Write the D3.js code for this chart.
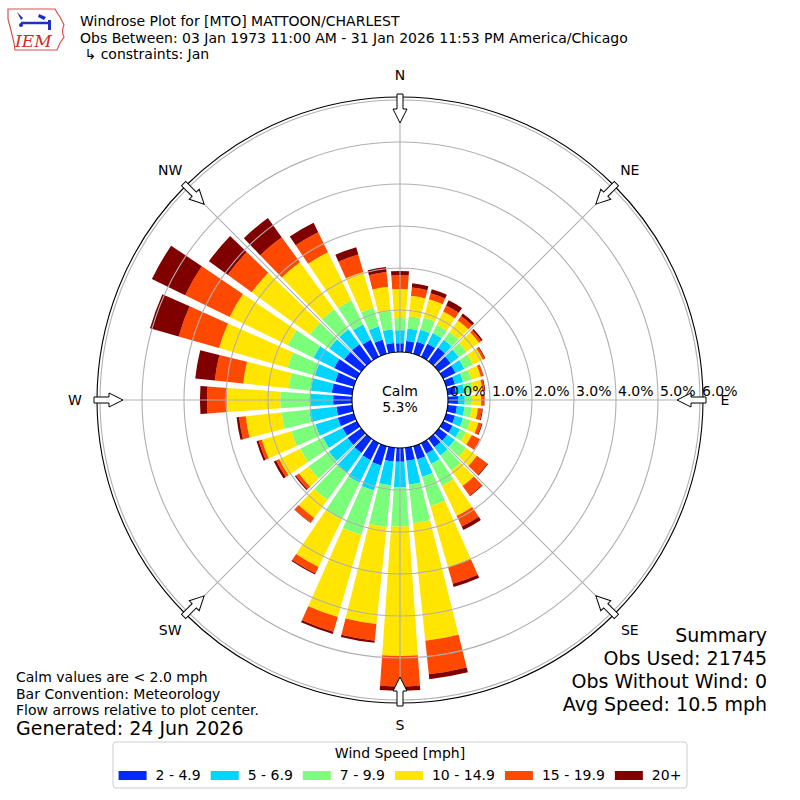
<!DOCTYPE html>
<html>
<head>
<meta charset="utf-8">
<script src="https://cdn.jsdelivr.net/npm/d3@7"></script>
<style>
  body { margin: 0; background: #fff; }
  text { font-family: "DejaVu Sans", sans-serif; fill: #000; }
</style>
</head>
<body>
<svg id="chart" width="800" height="800"></svg>
<script>
// Direction bins (degrees, meteorological convention: clockwise from north)
const directions = [0, 10, 20, 30, 40, 50, 60, 70, 80, 90, 100, 110, 120, 130, 140, 150, 160, 170,
                    180, 190, 200, 210, 220, 230, 240, 250, 260, 270, 280, 290, 300, 310, 320, 330, 340, 350];

const speedBins = ['2 - 4.9', '5 - 6.9', '7 - 9.9', '10 - 14.9', '15 - 19.9', '20+'];
const binColors = ['#002aff', '#00d4ff', '#7bff7b', '#ffe500', '#ff4800', '#800000'];

// Cumulative frequency [%] at the outer edge of each speed bin, one value per direction
const cumTo4_9 = [0.21, 0.27, 0.30, 0.35, 0.40, 0.35, 0.33, 0.22, 0.20, 0.24, 0.22, 0.22, 0.25, 0.25, 0.25, 0.28, 0.33, 0.31,
                  0.33, 0.33, 0.48, 0.45, 0.42, 0.40, 0.38, 0.40, 0.38, 0.45, 0.49, 0.46, 0.60, 0.50, 0.50, 0.45, 0.35, 0.22];
const cumTo6_9 = [0.52, 0.57, 0.60, 0.63, 0.63, 0.59, 0.56, 0.42, 0.40, 0.40, 0.40, 0.42, 0.45, 0.47, 0.49, 0.55, 0.76, 0.88,
                  0.94, 0.90, 1.10, 1.05, 1.00, 0.95, 0.90, 0.95, 1.03, 1.00, 0.99, 0.97, 1.15, 0.94, 0.94, 0.86, 0.68, 0.55];
const cumTo9_9 = [0.81, 0.86, 0.90, 0.85, 0.86, 0.81, 0.79, 0.63, 0.60, 0.57, 0.57, 0.60, 0.60, 0.80, 0.93, 1.13, 1.48, 1.81,
                  1.87, 1.90, 2.20, 2.02, 1.80, 1.55, 1.50, 1.55, 1.69, 1.71, 1.52, 1.64, 1.83, 1.51, 1.53, 1.50, 1.14, 0.99];
const cumTo14_9 = [1.50, 1.35, 1.35, 1.20, 1.20, 1.18, 1.05, 0.86, 0.83, 0.79, 0.72, 0.80, 0.76, 1.12, 1.39, 1.93, 3.00, 4.62,
                   4.95, 4.22, 4.23, 3.28, 2.33, 1.83, 2.06, 2.28, 2.55, 2.98, 2.61, 3.34, 3.37, 3.22, 2.91, 2.77, 2.03, 1.57];
const cumTo19_9 = [1.83, 1.55, 1.50, 1.36, 1.33, 1.25, 1.10, 0.92, 0.88, 0.86, 0.82, 0.88, 0.97, 1.43, 1.67, 2.21, 3.41, 5.42,
                   5.68, 4.62, 4.60, 3.45, 2.47, 1.92, 2.14, 2.36, 2.71, 3.45, 3.29, 4.34, 4.55, 3.93, 3.65, 3.30, 2.46, 1.92];
const cumAll = [1.93, 1.65, 1.60, 1.50, 1.40, 1.29, 1.12, 0.93, 0.90, 0.87, 0.84, 0.90, 0.98, 1.45, 1.69, 2.30, 3.49, 5.54,
                5.78, 4.67, 4.65, 3.48, 2.48, 1.95, 2.20, 2.41, 2.77, 3.62, 3.76, 5.05, 5.43, 4.48, 4.21, 3.55, 2.64, 2.04];

const ringTicks = [0, 1, 2, 3, 4, 5, 6];
const compassLabels = ['N', 'NE', 'E', 'SE', 'S', 'SW', 'W', 'NW'];
const compassDeg = [0, 45, 90, 135, 180, 225, 270, 315];
const calmPct = 5.3;

const titleLines = [
  'Windrose Plot for [MTO] MATTOON/CHARLEST',
  'Obs Between: 03 Jan 1973 11:00 AM - 31 Jan 2026 11:53 PM America/Chicago',
  ' \u21b3 constraints: Jan'
];
const noteLines = ['Calm values are < 2.0 mph', 'Bar Convention: Meteorology', 'Flow arrows relative to plot center.'];
const generatedLine = 'Generated: 24 Jun 2026';
const summaryLines = ['Summary', 'Obs Used: 21745', 'Obs Without Wind: 0', 'Avg Speed: 10.5 mph'];

// ---------------------------------------------------------------------------
const svg = d3.select('#chart');
const cx = 400, cy = 400;
const r = d3.scaleLinear().domain([0, 6]).range([48, 300]);
const rad = d => d * Math.PI / 180;
const halfWidth = 4; // degrees, bars cover 8 of each 10 degree bin

const layers = [cumTo4_9, cumTo6_9, cumTo9_9, cumTo14_9, cumTo19_9, cumAll];

const plot = svg.append('g').attr('transform', `translate(${cx},${cy})`);

// Stacked bars
const arc = d3.arc();
const segs = [];
directions.forEach((deg, i) => {
  layers.forEach((layer, k) => {
    const lo = k === 0 ? 0 : layers[k - 1][i];
    segs.push({ deg, lo, hi: layer[i], k });
  });
});
plot.append('g').selectAll('path')
  .data(segs)
  .join('path')
  .attr('d', d => arc({
    innerRadius: r(d.lo),
    outerRadius: r(d.hi),
    startAngle: rad(d.deg - halfWidth),
    endAngle: rad(d.deg + halfWidth)
  }))
  .attr('fill', d => binColors[d.k]);

// Grid on top of bars
const grid = plot.append('g').attr('fill', 'none').attr('stroke', '#b0b0b0').attr('stroke-width', 1.1);
grid.selectAll('circle')
  .data(ringTicks.slice(1))
  .join('circle')
  .attr('r', d => r(d));
grid.selectAll('line')
  .data(compassDeg)
  .join('line')
  .attr('x1', d => r(0) * Math.sin(rad(d)))
  .attr('y1', d => -r(0) * Math.cos(rad(d)))
  .attr('x2', d => r(6) * Math.sin(rad(d)))
  .attr('y2', d => -r(6) * Math.cos(rad(d)));

// Outer frame
plot.append('circle').attr('r', 303).attr('fill', 'none').attr('stroke', '#000').attr('stroke-width', 1.1);

// Calm circle
plot.append('circle').attr('r', r(0)).attr('fill', '#fff').attr('stroke', '#000').attr('stroke-width', 1.1);
plot.append('text').attr('x', 0).attr('y', -4).attr('text-anchor', 'middle').attr('font-size', 14).text('Calm');
plot.append('text').attr('x', 0).attr('y', 12).attr('text-anchor', 'middle').attr('font-size', 14)
  .text(d3.format('.1f')(calmPct) + '%');

// Ring labels along east axis
plot.append('g').selectAll('text')
  .data(ringTicks)
  .join('text')
  .attr('x', d => r(d) + 2)
  .attr('y', -4)
  .attr('font-size', 14)
  .text(d => d3.format('.1f')(d) + '%');

// Compass labels
plot.append('g').selectAll('text')
  .data(compassDeg)
  .join('text')
  .attr('x', d => 325 * Math.sin(rad(d)))
  .attr('y', d => -325 * Math.cos(rad(d)))
  .attr('dy', '0.35em')
  .attr('text-anchor', 'middle')
  .attr('font-size', 14)
  .text((d, i) => compassLabels[i]);

// Flow arrows pointing to the center
const arrowPts = [[0, -277], [7, -291], [3, -291], [3, -306], [-3, -306], [-3, -291], [-7, -291]];
plot.append('g').selectAll('path')
  .data(compassDeg)
  .join('path')
  .attr('transform', d => `rotate(${d})`)
  .attr('d', d3.line()(arrowPts) + 'Z')
  .attr('fill', '#fff')
  .attr('stroke', '#000')
  .attr('stroke-width', 1);

// Title block
svg.append('g').selectAll('text')
  .data(titleLines)
  .join('text')
  .attr('x', 80)
  .attr('y', (d, i) => 26 + i * 16.5)
  .attr('font-size', 14)
  .attr('xml:space', 'preserve')
  .text(d => d);

// IEM logo (rough)
const logo = svg.append('g');
logo.append('path')
  .attr('d', 'M8,9 L55,9 Q57,13 60,17 L64,25 Q61,31 64,37 L60,43 L57,50 L15,50 L14,43 Q11,30 8,19 Z')
  .attr('fill', '#fff').attr('stroke', '#d9534f').attr('stroke-width', 1.2);
logo.append('line').attr('x1', 21).attr('y1', 23).attr('x2', 50).attr('y2', 23)
  .attr('stroke', '#1f2fbf').attr('stroke-width', 2.5);
logo.append('path').attr('d', 'M17,12 L23,18 L21,20 Z').attr('fill', '#1f2fbf');
logo.append('path').attr('d', 'M39,14 L46,17 L44,20 L38,17 Z').attr('fill', '#1f2fbf');
logo.append('path').attr('d', 'M48,20 L51,20 L51,30 L48,30 Z').attr('fill', '#1f2fbf');
logo.append('circle').attr('cx', 21).attr('cy', 25).attr('r', 2).attr('fill', '#1f2fbf');
logo.append('text').attr('x', 15).attr('y', 47).attr('font-size', 17)
  .style('font-family', '"DejaVu Serif", "Liberation Serif", serif').style('font-style', 'italic')
  .style('fill', '#d62728').text('IEM');

// Notes, bottom left
svg.append('g').selectAll('text')
  .data(noteLines)
  .join('text')
  .attr('x', 16)
  .attr('y', (d, i) => 682 + i * 16.5)
  .attr('font-size', 14)
  .text(d => d);
svg.append('text').attr('x', 16).attr('y', 735).attr('font-size', 19).text(generatedLine);

// Summary, bottom right
svg.append('g').selectAll('text')
  .data(summaryLines)
  .join('text')
  .attr('x', 767)
  .attr('y', (d, i) => 642 + i * 23)
  .attr('text-anchor', 'end')
  .attr('font-size', 19)
  .text(d => d);

// Legend
const legend = svg.append('g');
const legendBox = legend.append('rect')
  .attr('x', 113).attr('y', 742).attr('width', 574).attr('height', 46)
  .attr('rx', 3).attr('fill', '#fff').attr('stroke', '#cccccc').attr('stroke-width', 1);
legend.append('text').attr('x', 400).attr('y', 758).attr('text-anchor', 'middle')
  .attr('font-size', 14).text('Wind Speed [mph]');
const items = legend.selectAll('g.item')
  .data(speedBins)
  .join('g')
  .attr('class', 'item');
items.append('text')
  .attr('y', 780)
  .attr('font-size', 14)
  .text(d => d);
// lay the entries out from their measured text widths, centred in the box
const handleW = 28, handlePad = 9, colGap = 10;
const widths = [];
items.select('text').each(function() { widths.push(this.getComputedTextLength()); });
const total = d3.sum(widths) + speedBins.length * (handleW + handlePad) + (speedBins.length - 1) * colGap;
let xPos = 400 - total / 2;
items.each(function(d, i) {
  const g = d3.select(this);
  g.insert('rect', 'text')
    .attr('x', xPos).attr('y', 771).attr('width', handleW).attr('height', 9)
    .attr('fill', binColors[i]);
  g.select('text').attr('x', xPos + handleW + handlePad);
  xPos += handleW + handlePad + widths[i] + colGap;
});
</script>
</body>
</html>
